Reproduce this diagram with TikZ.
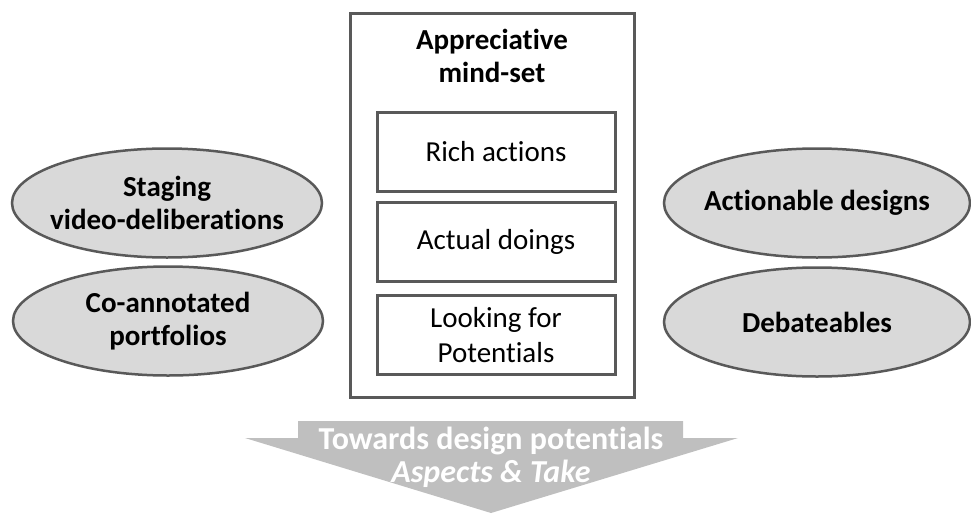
\documentclass[tikz,border=0pt]{standalone}
\usepackage{fontspec}
\setmainfont{Carlito}[Ligatures=NoCommon]
\usetikzlibrary{shapes.geometric}
\definecolor{edgegrey}{HTML}{595959}
\definecolor{ovalgrey}{HTML}{D9D9D9}
\definecolor{arrowgrey}{HTML}{BFBFBF}
\begin{document}
\begin{tikzpicture}[x=1pt,y=-1pt,
    oval/.style={ellipse,draw=edgegrey,line width=2.5pt,fill=ovalgrey,minimum width=310pt,minimum height=109pt,inner xsep=-30pt,inner ysep=0pt,align=center,font=\fontsize{29}{33}\selectfont\bfseries},
    stepbox/.style={rectangle,draw=edgegrey,line width=3pt,minimum width=238pt,minimum height=79pt,inner sep=0pt,align=center,font=\fontsize{29}{35}\selectfont},
    outerbox/.style={rectangle,draw=edgegrey,line width=3pt,minimum width=284pt,minimum height=384pt,inner sep=0pt}]
    \useasboundingbox (0,0) rectangle (971,514);
    % middle column
    \node[outerbox] (mindset) at (492,205) {};
    \node[align=center,inner sep=0pt,font=\fontsize{29}{33}\selectfont\bfseries] (title) at (492,56) {Appreciative\\mind-set};
    \node[stepbox] (rich) at (496,151.5) {Rich actions};
    \node[stepbox] (doings) at (496,242) {Actual doings};
    \node[stepbox] (looking) at (496,335) {Looking for\\Potentials};
    % left ovals
    \node[oval] (staging) at (167,203) {Staging\\video-deliberations};
    \node[oval] (coann) at (168,321) {Co-annotated\\portfolios};
    % right ovals
    \node[oval,minimum width=306pt] (actionable) at (817,203) {Actionable designs};
    \node[oval,minimum width=306pt] (debate) at (817,322) {Debateables};
    % arrow at the bottom
    \fill[arrowgrey] (298,421) -- (683,421) -- (683,438) -- (738,438) -- (491,513) -- (245,438) -- (298,438) -- cycle;
    \node[align=center,inner sep=0pt,text=white,font=\fontsize{32}{33}\selectfont\bfseries] (towards) at (491,457) {Towards design potentials\\\textit{Aspects \& Take}};
\end{tikzpicture}
\end{document}
